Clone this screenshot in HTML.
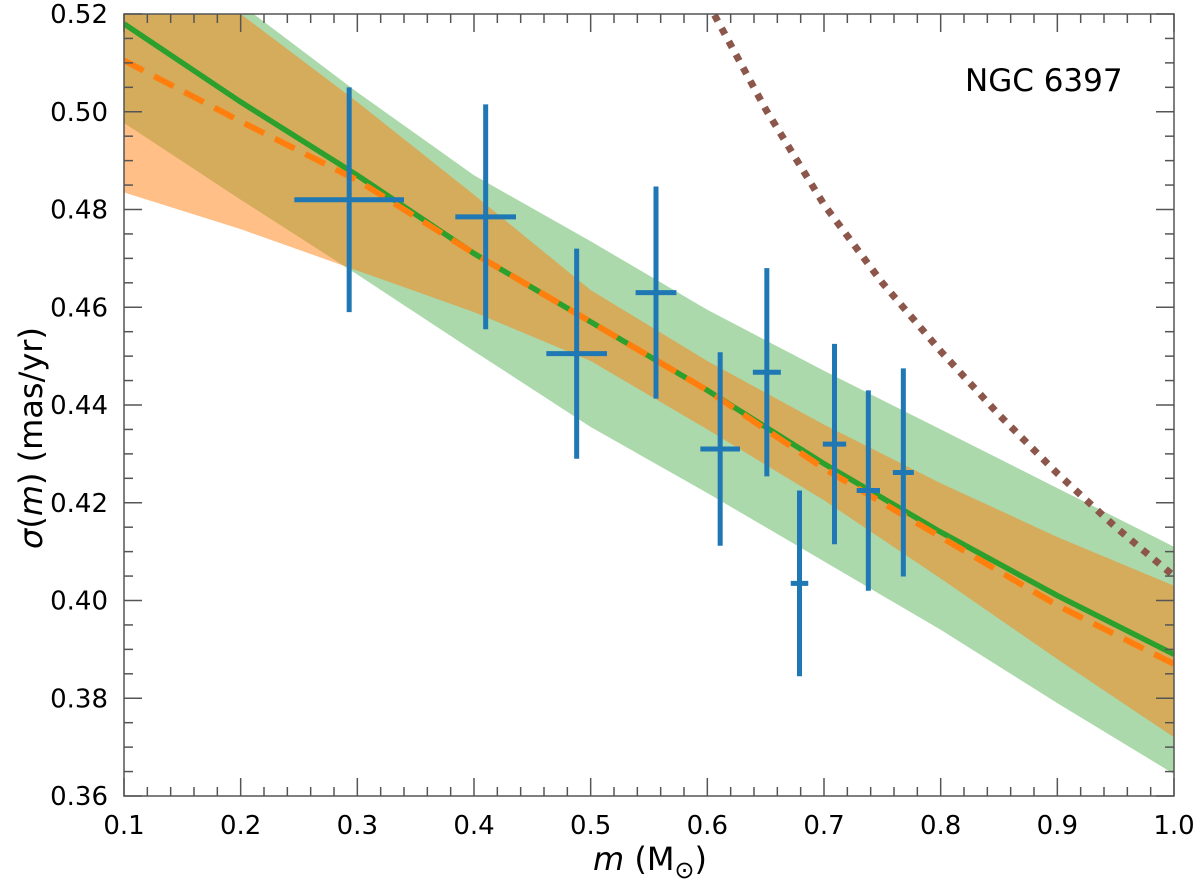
<!DOCTYPE html>
<html><head><meta charset="utf-8"><style>
html,body{margin:0;padding:0;background:#fff;}
svg{display:block;font-family:"DejaVu Sans","Liberation Sans",sans-serif;}
</style></head><body>
<svg id="chart" width="1200" height="883" viewBox="0 0 1200 883" xmlns="http://www.w3.org/2000/svg">
<defs><clipPath id="clip"><rect x="124" y="14" width="1050" height="782"/></clipPath></defs>
<g id="plot" clip-path="url(#clip)"></g>
<g id="axes"></g>
<text x="965" y="91" font-size="31" fill="#000">NGC 6397</text>
<text transform="translate(42,438) rotate(-90)" text-anchor="middle" font-size="32"><tspan font-style="italic">σ</tspan>(<tspan font-style="italic">m</tspan>) (mas/yr)</text>
<text x="650" y="870" text-anchor="middle" font-size="32"><tspan font-style="italic">m</tspan> (M<tspan font-size="24" dy="8">⊙</tspan><tspan dy="-8">)</tspan></text>
</svg>
<script>
const gridX = [0.1,0.2,0.3,0.4,0.5,0.6,0.7,0.8,0.9,1.0];
const greenLine = [0.518,0.502,0.487,0.471,0.457,0.443,0.428,0.414,0.401,0.389];
const orangeLine = [0.5105,0.498,0.486,0.471,0.457,0.443,0.427,0.413,0.399,0.387];
const greenUpper = [0.54,0.522,0.504,0.487,0.4735,0.4595,0.447,0.435,0.423,0.411];
const greenLower = [0.4977,0.482,0.4667,0.451,0.4355,0.422,0.408,0.394,0.379,0.3645];
const orangeUpper = [0.54,0.52,0.502,0.483,0.4635,0.449,0.436,0.424,0.413,0.403];
const orangeLower = [0.4835,0.476,0.4675,0.459,0.449,0.435,0.4205,0.4045,0.388,0.372];
const dotX = [0.6,0.65,0.7,0.75,0.8,0.85,0.9,0.95,1.0];
const dotY = [0.5225,0.5005,0.481,0.465,0.451,0.438,0.426,0.415,0.405];
const ptX = [0.293,0.41,0.488,0.556,0.611,0.651,0.679,0.709,0.738,0.768];
const ptY = [0.482,0.4785,0.4505,0.463,0.431,0.4467,0.4035,0.432,0.4225,0.4262];
const ptXerr = [0.047,0.026,0.026,0.0175,0.017,0.012,0.0075,0.01,0.01,0.009];
const ptYerr = [0.023,0.023,0.0215,0.0217,0.0198,0.0213,0.019,0.0205,0.0205,0.0213];
const xTicks = ["0.1","0.2","0.3","0.4","0.5","0.6","0.7","0.8","0.9","1.0"];
const yTicks = ["0.36","0.38","0.40","0.42","0.44","0.46","0.48","0.50","0.52"];

const L=124,R=1174,T=14,B=796,X0=0.1,X1=1.0,Y0=0.36,Y1=0.52;
const sx=v=>L+(v-X0)/(X1-X0)*(R-L);
const sy=v=>B-(v-Y0)/(Y1-Y0)*(B-T);
const NS='http://www.w3.org/2000/svg';
const plot=document.getElementById('plot'), axes=document.getElementById('axes');
function mk(tag,attrs,parent){const e=document.createElementNS(NS,tag);for(const k in attrs)e.setAttribute(k,attrs[k]);parent.appendChild(e);return e;}
function pts(xs,ys){return xs.map((x,i)=>sx(x).toFixed(1)+','+sy(ys[i]).toFixed(1));}
function band(up,lo,fill,name){
  const p=pts(gridX,up).concat(pts(gridX,lo).reverse()).join(' ');
  const e=mk('polygon',{points:p,fill:fill},plot);
  
  
}
band(greenUpper,greenLower,'rgba(44,160,44,0.4)','green-band');
band(orangeUpper,orangeLower,'rgba(255,127,14,0.5)','orange-band');
let e=mk('polyline',{points:pts(gridX,greenLine).join(' '),fill:'none',stroke:'#2ca02c','stroke-width':5.5},plot);


e=mk('polyline',{points:pts(gridX,orangeLine).join(' '),fill:'none',stroke:'#ff7f0e','stroke-width':6,'stroke-dasharray':'22 12'},plot);


e=mk('polyline',{points:pts(dotX,dotY).join(' '),fill:'none',stroke:'#8c564b','stroke-width':7,'stroke-dasharray':'7 8'},plot);


ptX.forEach((x,i)=>{
  const g=mk('g',{},plot);
  
  
  mk('line',{x1:sx(x),x2:sx(x),y1:sy(ptY[i]-ptYerr[i]),y2:sy(ptY[i]+ptYerr[i]),stroke:'#1f77b4','stroke-width':5},g);
  mk('line',{x1:sx(x-ptXerr[i]),x2:sx(x+ptXerr[i]),y1:sy(ptY[i]),y2:sy(ptY[i]),stroke:'#1f77b4','stroke-width':5},g);
});
e=mk('rect',{x:L,y:T,width:R-L,height:B-T,fill:'none',stroke:'#555','stroke-width':1.5},axes);


const tk={stroke:'#555','stroke-width':1.5};
for(let k=0;k<=45;k++){const v=X0+k*0.02;const x=sx(v);const len=(k%5===0)?18:9;
  mk('line',Object.assign({x1:x,x2:x,y1:B,y2:B-len},tk),axes);
  mk('line',Object.assign({x1:x,x2:x,y1:T,y2:T+len},tk),axes);}
for(let k=0;k<=32;k++){const v=Y0+k*0.005;const y=sy(v);const len=(k%4===0)?18:9;
  mk('line',Object.assign({x1:L,x2:L+len,y1:y,y2:y},tk),axes);
  mk('line',Object.assign({x1:R,x2:R-len,y1:y,y2:y},tk),axes);}
xTicks.forEach(t=>{const el=mk('text',{x:sx(parseFloat(t)),y:834,'text-anchor':'middle','font-size':26},axes);el.textContent=t;
  
  });
yTicks.forEach(t=>{const el=mk('text',{x:108,y:sy(parseFloat(t))+9,'text-anchor':'end','font-size':26},axes);el.textContent=t;
  
  });
</script>
</body></html>
